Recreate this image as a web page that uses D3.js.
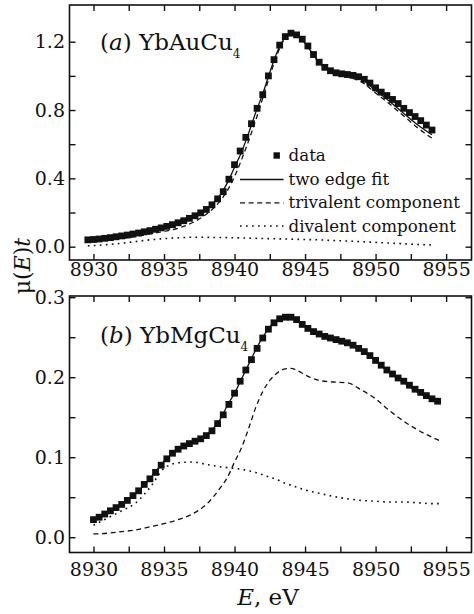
<!DOCTYPE html>
<html><head><meta charset="utf-8">
<script src="https://cdn.jsdelivr.net/npm/d3@7"></script>
<style>
html,body{margin:0;padding:0;background:#fff;}
svg{display:block;}
text{font-family:"DejaVu Serif",serif;fill:#111;}
</style></head>
<body>
<svg id="chart" width="474" height="614"></svg>
<script>
// ---------------- data ----------------
const energyA = [8929.6,8930.0,8930.4,8930.8,8931.2,8931.6,8932.0,8932.4,8932.8,8933.2,8933.6,8934.0,8934.4,8934.8,8935.2,8935.6,8936.0,8936.4,8936.8,8937.2,8937.6,8938.0,8938.4,8938.8,8939.2,8939.6,8940.0,8940.4,8940.8,8941.2,8941.6,8942.0,8942.4,8942.8,8943.2,8943.6,8944.0,8944.4,8944.8,8945.2,8945.6,8946.0,8946.4,8946.8,8947.2,8947.6,8948.0,8948.4,8948.8,8949.2,8949.6,8950.0,8950.4,8950.8,8951.2,8951.6,8952.0,8952.4,8952.8,8953.2,8953.6,8954.0];
const dataA = [0.040,0.042,0.045,0.049,0.053,0.058,0.063,0.068,0.074,0.080,0.087,0.094,0.102,0.110,0.119,0.129,0.140,0.152,0.166,0.181,0.198,0.218,0.245,0.280,0.322,0.395,0.480,0.560,0.640,0.720,0.810,0.890,1.000,1.095,1.180,1.230,1.250,1.240,1.215,1.175,1.125,1.080,1.050,1.030,1.018,1.012,1.008,1.003,0.995,0.980,0.958,0.930,0.905,0.885,0.862,0.838,0.810,0.785,0.762,0.738,0.712,0.683];

const fitEnergyA = [8929.6,8931,8932,8933,8934,8935,8936,8937,8938,8938.5,8939,8939.5,8940,8940.5,8941,8941.5,8942,8942.5,8943,8943.5,8944,8944.5,8945,8945.5,8946,8946.5,8947,8948,8949,8950,8951,8952,8953,8954];
const fitA = [0.040,0.052,0.062,0.076,0.093,0.114,0.138,0.172,0.220,0.258,0.305,0.375,0.465,0.555,0.665,0.785,0.895,1.020,1.135,1.215,1.250,1.235,1.190,1.135,1.080,1.045,1.025,1.005,0.980,0.915,0.850,0.780,0.712,0.655];
const trivalentA = [0.030,0.040,0.048,0.060,0.074,0.090,0.108,0.140,0.190,0.225,0.270,0.330,0.410,0.510,0.620,0.740,0.870,1.000,1.120,1.210,1.245,1.230,1.185,1.130,1.075,1.040,1.020,0.995,0.965,0.900,0.835,0.765,0.695,0.635];
const divalentA = [0.005,0.012,0.020,0.030,0.040,0.047,0.052,0.055,0.055,0.054,0.054,0.053,0.052,0.051,0.050,0.049,0.048,0.047,0.046,0.045,0.044,0.043,0.042,0.041,0.040,0.038,0.036,0.033,0.029,0.025,0.021,0.017,0.013,0.010];

const energyB = [8930.0,8930.4,8930.8,8931.2,8931.6,8932.0,8932.4,8932.8,8933.2,8933.6,8934.0,8934.4,8934.8,8935.2,8935.6,8936.0,8936.4,8936.8,8937.2,8937.6,8938.0,8938.4,8938.8,8939.2,8939.6,8940.0,8940.4,8940.8,8941.2,8941.6,8942.0,8942.4,8942.8,8943.2,8943.6,8944.0,8944.4,8944.8,8945.2,8945.6,8946.0,8946.4,8946.8,8947.2,8947.6,8948.0,8948.4,8948.8,8949.2,8949.6,8950.0,8950.4,8950.8,8951.2,8951.6,8952.0,8952.4,8952.8,8953.2,8953.6,8954.0,8954.4];
const dataB = [0.022,0.025,0.029,0.033,0.037,0.041,0.046,0.052,0.058,0.066,0.073,0.081,0.090,0.098,0.105,0.110,0.114,0.117,0.120,0.123,0.127,0.133,0.142,0.153,0.166,0.180,0.195,0.209,0.222,0.236,0.249,0.260,0.268,0.273,0.275,0.275,0.272,0.266,0.261,0.257,0.254,0.251,0.249,0.247,0.245,0.243,0.240,0.236,0.232,0.227,0.221,0.215,0.209,0.204,0.199,0.195,0.190,0.185,0.181,0.177,0.173,0.170];

const fitEnergyB = [8930,8931,8932,8933,8934,8935,8936,8937,8938,8939,8939.5,8940,8940.5,8941,8941.5,8942,8942.5,8943,8943.5,8944,8944.5,8945,8946,8947,8948,8949,8950,8951,8952,8953,8954,8954.5];
const fitB = [0.021,0.032,0.042,0.055,0.073,0.095,0.110,0.120,0.128,0.148,0.165,0.180,0.198,0.216,0.234,0.250,0.263,0.271,0.275,0.275,0.270,0.263,0.253,0.247,0.242,0.233,0.220,0.205,0.193,0.181,0.172,0.168];
const trivalentB = [0.004,0.005,0.007,0.009,0.013,0.017,0.022,0.029,0.041,0.062,0.075,0.094,0.112,0.136,0.162,0.182,0.196,0.205,0.210,0.211,0.208,0.203,0.196,0.194,0.193,0.184,0.173,0.158,0.145,0.134,0.125,0.121];
const divalentB = [0.015,0.024,0.033,0.043,0.062,0.086,0.093,0.094,0.091,0.088,0.087,0.086,0.085,0.083,0.081,0.078,0.075,0.072,0.068,0.065,0.062,0.059,0.055,0.051,0.048,0.046,0.045,0.044,0.044,0.043,0.042,0.042];

const xTickValues = [8930,8932.5,8935,8937.5,8940,8942.5,8945,8947.5,8950,8952.5,8955];
const xTickLabels = ["8930","","8935","","8940","","8945","","8950","","8955"];
const yTickValuesA = [0,0.2,0.4,0.6,0.8,1.0,1.2];
const yTickLabelsA = ["0.0","","0.4","","0.8","","1.2"];
const yTickValuesB = [0,0.05,0.1,0.15,0.2,0.25,0.3];
const yTickLabelsB = ["0.0","","0.1","","0.2","","0.3"];
const legendLabels = ["data","two edge fit","trivalent component","divalent component"];
const xTitle = "E, eV";

// ---------------- layout ----------------
const svg = d3.select("#chart");
const L = 69.5, R = 471.5;
const panels = [
  {top:5, bottom:260, yDom:[-0.078,1.415], tickVals:yTickValuesA, tickLabs:yTickLabelsA, xPad:2.5,
   e:energyA, d:dataA, fe:fitEnergyA, fit:fitA, tri:trivalentA, di:divalentA,
   lab:["(","a",") YbAuCu","4"], labX:100, labY:50, legend:true},
  {top:296, bottom:552.5, yDom:[-0.0191,0.3015], tickVals:yTickValuesB, tickLabs:yTickLabelsB, xPad:10.5,
   e:energyB, d:dataB, fe:fitEnergyB, fit:fitB, tri:trivalentB, di:divalentB,
   lab:["(","b",") YbMgCu","4"], labX:100, labY:343, legend:false}
];

const styles = {
  fit:{dash:null, w:1.3},
  tri:{dash:"5,3.6", w:1.3},
  di:{dash:"1.7,4.3", w:1.6}
};

panels.forEach(p => {
  const x = d3.scaleLinear().domain([8928.3,8956.8]).range([L,R]);
  const y = d3.scaleLinear().domain(p.yDom).range([p.bottom,p.top]);
  const g = svg.append("g");

  // axes
  const fmtX = (v) => xTickLabels[xTickValues.indexOf(v)];
  const fmtY = (v) => p.tickLabs[p.tickVals.indexOf(v)];
  const styleAxis = sel => {
    sel.select(".domain").remove();
    sel.selectAll(".tick line").attr("stroke","#111").attr("stroke-width",1.4);
    sel.selectAll("text").style("font-family","'DejaVu Serif',serif").style("font-size","19px").attr("fill","#111");
  };
  g.append("g").attr("transform",`translate(0,${p.bottom})`)
    .call(d3.axisBottom(x).tickValues(xTickValues).tickSize(-6).tickPadding(p.xPad).tickFormat(fmtX)).call(styleAxis);
  g.append("g").attr("transform",`translate(0,${p.top})`)
    .call(d3.axisTop(x).tickValues(xTickValues).tickSize(-6).tickFormat("")).call(styleAxis);
  g.append("g").attr("transform",`translate(${L},0)`)
    .call(d3.axisLeft(y).tickValues(p.tickVals).tickSize(-6).tickPadding(4.5).tickFormat(fmtY)).call(styleAxis);
  g.append("g").attr("transform",`translate(${R},0)`)
    .call(d3.axisRight(y).tickValues(p.tickVals).tickSize(-6).tickFormat("")).call(styleAxis);

  // frame
  g.append("rect").attr("x",L).attr("y",p.top).attr("width",R-L).attr("height",p.bottom-p.top)
    .attr("fill","none").attr("stroke","#111").attr("stroke-width",1.6);

  // curves
  const line = d3.line().x(d=>x(d[0])).y(d=>y(d[1])).curve(d3.curveMonotoneX);
  [["fit",p.fit],["tri",p.tri],["di",p.di]].forEach(([k,vals]) => {
    g.append("path").datum(p.fe.map((e,i)=>[e,vals[i]]))
      .attr("d",line).attr("fill","none").attr("stroke","#111")
      .attr("stroke-width",styles[k].w).attr("stroke-dasharray",styles[k].dash);
  });

  // data squares
  const s = 6.8;
  g.selectAll("rect.pt").data(p.e.map((e,i)=>[e,p.d[i]])).enter().append("rect")
    .attr("class","pt").attr("x",d=>x(d[0])-s/2).attr("y",d=>y(d[1])-s/2)
    .attr("width",s).attr("height",s).attr("fill","#111");

  // panel label
  const t = g.append("text").attr("x",p.labX).attr("y",p.labY).style("font-size","23px");
  t.append("tspan").text(p.lab[0]);
  t.append("tspan").style("font-style","italic").text(p.lab[1]);
  t.append("tspan").text(p.lab[2]);
  t.append("tspan").attr("dy",8).style("font-size","12px").text(p.lab[3]);

  // legend
  if (p.legend) {
    const lx0 = 240, lx1 = 283.5, tx = 288.5;
    const rows = [155.5, 179.5, 202.8, 226];
    legendLabels.forEach((lab,i) => {
      const ry = rows[i];
      if (i === 0) {
        g.append("rect").attr("x",276.7-3.2).attr("y",ry-3.2).attr("width",6.4).attr("height",6.4).attr("fill","#111");
      } else {
        const k = ["fit","tri","di"][i-1];
        g.append("line").attr("x1",lx0).attr("x2",lx1).attr("y1",ry).attr("y2",ry)
          .attr("stroke","#111").attr("stroke-width",styles[k].w).attr("stroke-dasharray",styles[k].dash);
      }
      g.append("text").attr("x",tx).attr("y",ry+5.5).style("font-size","16.7px").text(lab);
    });
  }
});

// x title
const xt = svg.append("text").attr("x",268).attr("y",605).attr("text-anchor","middle").style("font-size","23px");
xt.append("tspan").style("font-style","italic").text(xTitle.split(",")[0]);
xt.append("tspan").text("," + xTitle.split(",")[1]);

// y title  μ(E)t
const yt = svg.append("text").attr("transform","translate(30,266) rotate(-90)").attr("text-anchor","middle").style("font-size","22px");
yt.append("tspan").text("μ(");
yt.append("tspan").style("font-style","italic").text("E");
yt.append("tspan").text(")");
yt.append("tspan").style("font-style","italic").text("t");
</script>
</body></html>
